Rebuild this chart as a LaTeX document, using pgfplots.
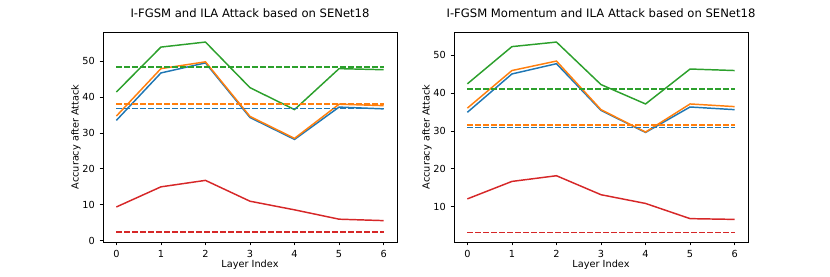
\documentclass[border=0pt]{standalone}
\usepackage{fontspec}
\setmainfont{DejaVu Sans}
\usepackage{pgfplots}
\pgfplotsset{compat=1.18}
\definecolor{tblue}{HTML}{1F77B4}
\definecolor{torange}{HTML}{FF7F0E}
\definecolor{tgreen}{HTML}{2CA02C}
\definecolor{tred}{HTML}{D62728}
\pgfplotsset{
  myaxis/.style={
    scale only axis, width=220.5pt, height=157.5pt,
    anchor=south west,
    xmin=-0.3, xmax=6.3, xtick={0,...,6},
    tick pos=left, tick align=outside,
    major tick length=2.6pt,
    every tick/.style={black, line width=0.6pt},
    axis line style={black, line width=0.6pt},
    /pgf/number format/assume math mode=true,
    tick label style={font=\fontsize{7.3}{9}\selectfont},
    label style={font=\fontsize{7.3}{9}\selectfont},
    title style={font=\fontsize{8.7}{10}\selectfont, at={(axis description cs:0.5,1)}, anchor=base, yshift=4.5pt},
    xlabel={Layer Index},
    xlabel style={at={(axis description cs:0.5,0)}, anchor=base, yshift=-19.5pt},
    ylabel={Accuracy after Attack},
    ylabel style={at={(axis description cs:0,0.5)}, anchor=base, yshift=18.3pt},
    every axis plot/.append style={line width=1.1pt, mark=none},
    das/.style={dash pattern=on 4.2pt off 1.8pt},
  }
}
\begin{document}
\begin{tikzpicture}
\path (0,0) rectangle (622.5pt,207.75pt);
\begin{axis}[myaxis, at={(77.25pt,26.25pt)},
  ymin=-0.35, ymax=58.1, ytick={0,10,20,30,40,50},
  title={I-FGSM and ILA Attack based on SENet18}]
\addplot[tblue] coordinates {(0,33.5)(1,46.7)(2,49.5)(3,34.3)(4,28.2)(5,37.2)(6,36.7)};
\addplot[torange] coordinates {(0,34.7)(1,47.9)(2,49.8)(3,34.6)(4,28.5)(5,38.0)(6,37.6)};
\addplot[tgreen] coordinates {(0,41.4)(1,53.9)(2,55.3)(3,42.6)(4,36.5)(5,47.9)(6,47.6)};
\addplot[tred] coordinates {(0,9.4)(1,15.0)(2,16.8)(3,11.0)(4,8.6)(5,6.0)(6,5.6)};
\addplot[tblue,das] coordinates {(0,36.8)(6,36.8)};
\addplot[torange,das] coordinates {(0,38.0)(6,38.0)};
\addplot[tgreen,das] coordinates {(0,48.4)(6,48.4)};
\addplot[tred,das] coordinates {(0,2.4)(6,2.4)};
\end{axis}
\begin{axis}[myaxis, at={(340.5pt,26.25pt)},
  ymin=0.75, ymax=56.05, ytick={10,20,30,40,50},
  title={I-FGSM Momentum and ILA Attack based on SENet18}]
\addplot[tblue] coordinates {(0,34.9)(1,45.0)(2,47.7)(3,35.4)(4,29.6)(5,36.3)(6,35.6)};
\addplot[torange] coordinates {(0,36.0)(1,45.9)(2,48.4)(3,35.6)(4,29.7)(5,37.1)(6,36.4)};
\addplot[tgreen] coordinates {(0,42.4)(1,52.2)(2,53.4)(3,42.2)(4,37.1)(5,46.3)(6,45.9)};
\addplot[tred] coordinates {(0,12.1)(1,16.7)(2,18.2)(3,13.2)(4,10.9)(5,6.9)(6,6.7)};
\addplot[tblue,das] coordinates {(0,30.9)(6,30.9)};
\addplot[torange,das] coordinates {(0,31.6)(6,31.6)};
\addplot[tgreen,das] coordinates {(0,41.1)(6,41.1)};
\addplot[tred,das] coordinates {(0,3.3)(6,3.3)};
\end{axis}
\end{tikzpicture}
\end{document}
